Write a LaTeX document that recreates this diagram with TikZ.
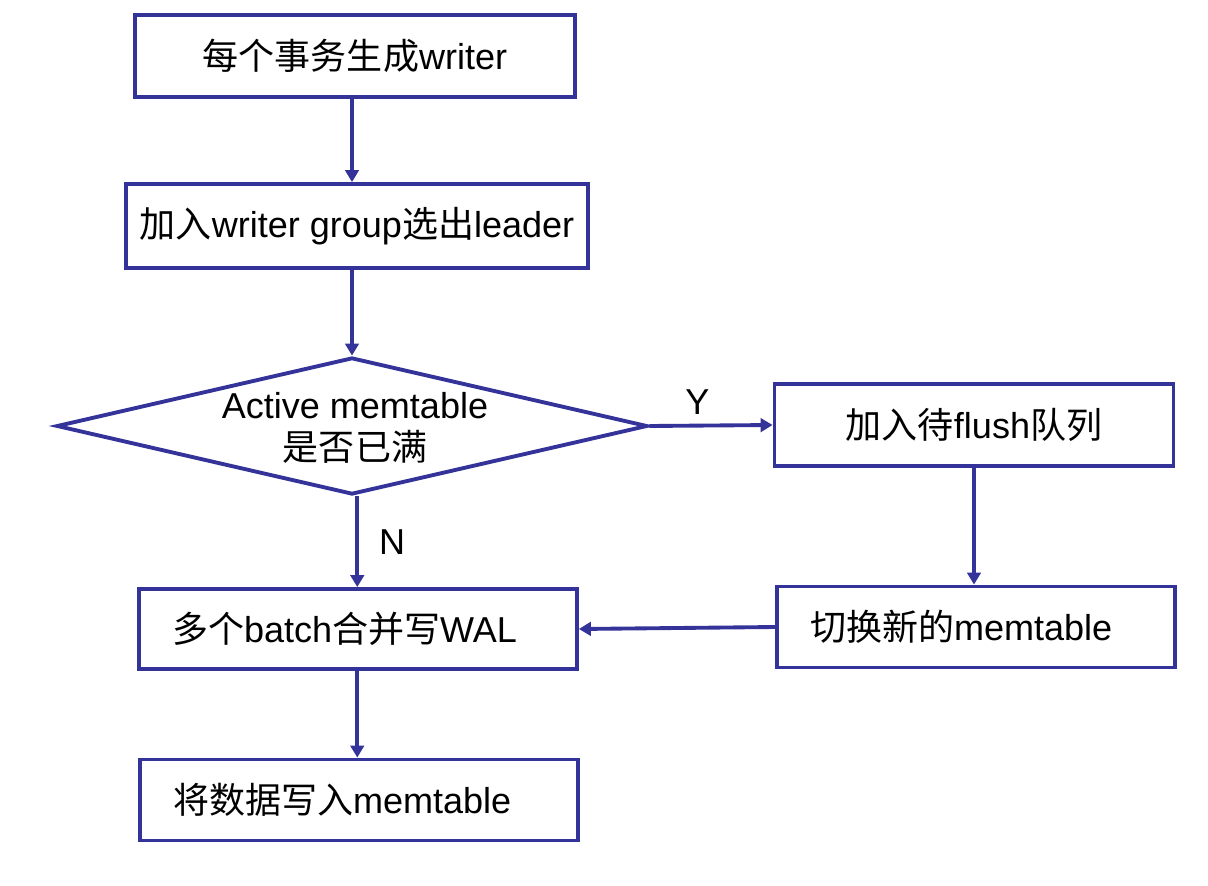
\documentclass[tikz,border=0pt]{standalone}
\usepackage{fontspec}
\setmainfont{Liberation Sans}
\newfontfamily\cjk{Noto Sans CJK SC}
\newcommand{\zh}[1]{{\cjk #1}}
\usetikzlibrary{arrows.meta,shapes.geometric}
\definecolor{flowblue}{HTML}{333399}

\begin{document}
\begin{tikzpicture}[x=0.02cm, y=-0.02cm, >={Triangle[length=0.24cm,width=0.27cm]},
  stepbox/.style={draw=flowblue, line width=2.2pt, minimum height=1.64cm, inner sep=0pt, font=\fontsize{20.5}{24.5}\selectfont},
  leftbox/.style={stepbox, align=left, inner xsep=0.66cm},
  flow/.style={->, draw=flowblue, line width=2.2pt}]
  \useasboundingbox (0,0) rectangle (1208,886);

  % Left column
  \node[stepbox, minimum width=8.8cm] (gen) at (355,56) {\zh{每个事务生成}writer};
  \node[stepbox, minimum width=9.24cm, minimum height=1.68cm] (group) at (357,226) {\zh{加入}writer group\zh{选出}leader};
  \node[diamond, draw=flowblue, line width=2.2pt, inner sep=0pt, minimum width=11.82cm, minimum height=2.74cm] (full) at (352,426) {};
  \node[font=\fontsize{20.5}{24.5}\selectfont, align=center, inner sep=0pt] (fullq) at (355,428) {Active memtable\\[-1pt]\zh{是否已满}};
  \node[leftbox, text width=7.44cm, minimum height=1.6cm] (wal) at (358,629) {\zh{多个}batch\zh{合并写}WAL};
  \node[leftbox, text width=7.44cm, minimum height=1.62cm] (write) at (359,800) {\zh{将数据写入}memtable};

  % Right column
  \node[stepbox, minimum width=7.98cm] (queue) at (974,425) {\zh{加入待}flush\zh{队列}};
  \node[leftbox, text width=6.64cm, minimum height=1.62cm] (switch) at (976,627) {\zh{切换新的}memtable};

  % Connectors
  \draw[flow] (full.north |- gen.south) -- (full.north |- group.north);
  \draw[flow] (full.north |- group.south) -- (full.north);
  \draw[flow] (full.east) -- (queue.west) node[pos=0.39, above=2pt, font=\fontsize{20.5}{24.5}\selectfont] (yes) {Y};
  \draw[flow] ([xshift=3]full.south) -- ([xshift=3]full.south |- wal.north) node[midway, right=8pt, font=\fontsize{20.5}{24.5}\selectfont] (no) {N};
  \draw[flow] (queue.south) -- (queue.south |- switch.north);
  \draw[flow] (switch.west) -- (wal.east);
  \draw[flow] ([xshift=3]full.south |- wal.south) -- ([xshift=3]full.south |- write.north);
\end{tikzpicture}
\end{document}
